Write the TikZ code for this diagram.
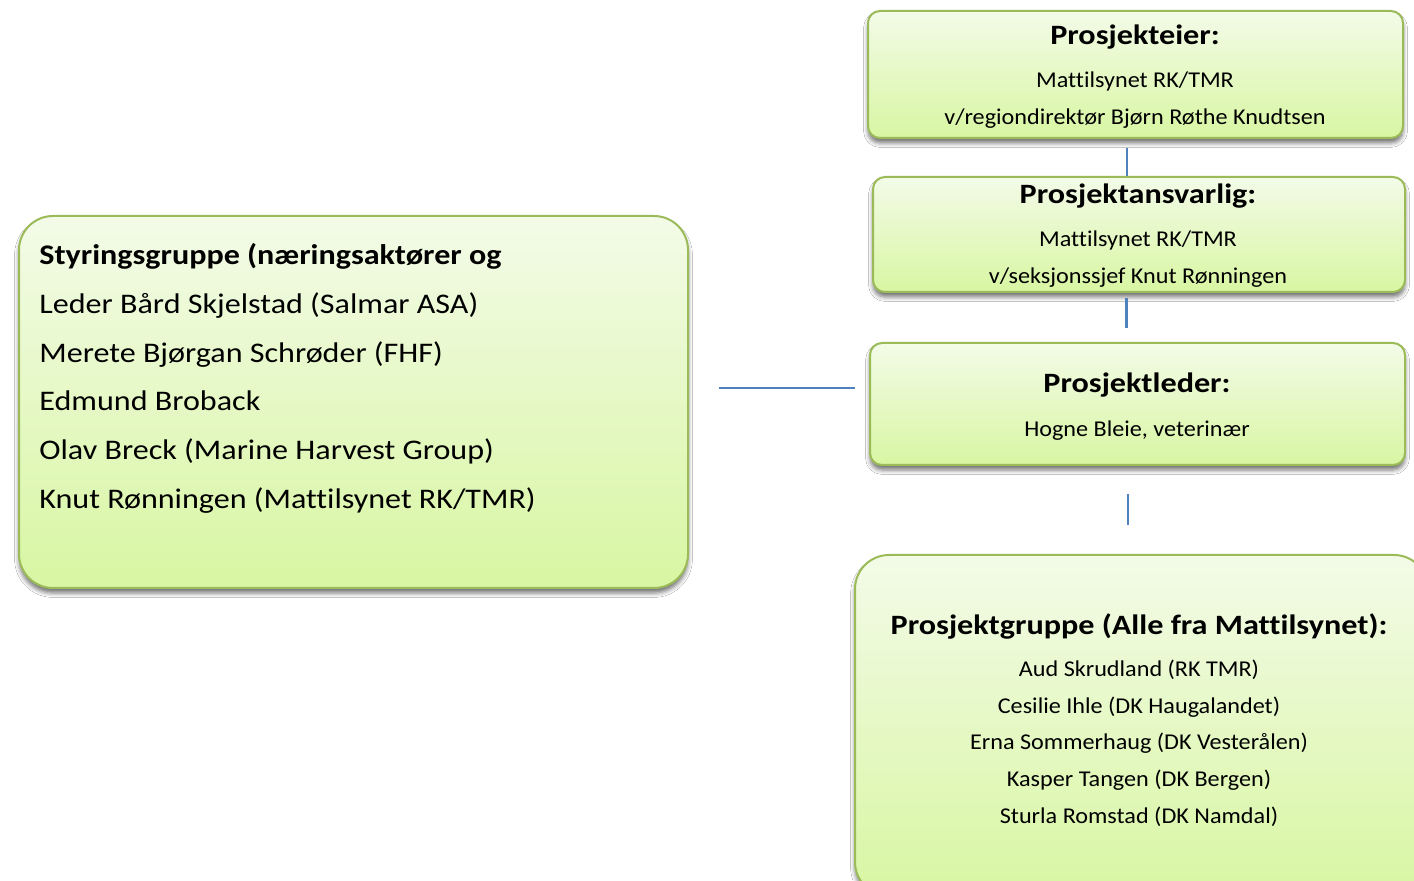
\documentclass[tikz,border=0pt]{standalone}
\usepackage{fontspec}
\setmainfont{Carlito}[Ligatures=NoCommon]
\newfontfamily\smallfont{Carlito}[Ligatures=NoCommon, FakeStretch=1.07]
\newfontfamily\bigfont{Carlito}[Ligatures=NoCommon, FakeStretch=1.13]
\newfontfamily\headfont{Carlito}[Ligatures=NoCommon, FakeStretch=1.15]
\usetikzlibrary{fit,shadows.blur}
\definecolor{boxborder}{HTML}{9BBB59}
\definecolor{boxtop}{HTML}{F3FBE8}
\definecolor{boxbot}{HTML}{D8F6A2}
\definecolor{linkblue}{HTML}{4F81BD}
\tikzset{
  box/.style={draw=boxborder, line width=1pt, top color=boxtop, bottom color=boxbot,
    inner sep=0pt, rounded corners=6pt,
    blur shadow={shadow xshift=0pt, shadow yshift=-2.5pt, shadow blur radius=2.2pt, shadow opacity=55}},
  bigbox/.style={box, rounded corners=17pt},
  ttl/.style={font=\headfont\bfseries\fontsize{14}{16}\selectfont, anchor=base, inner sep=0pt},
  txt/.style={font=\smallfont\fontsize{11.3}{13}\selectfont, anchor=base, inner sep=0pt},
  ltxt/.style={font=\bigfont\fontsize{14.2}{16}\selectfont, anchor=base west, inner sep=0pt},
  lttl/.style={font=\bigfont\bfseries\fontsize{14.2}{16}\selectfont, anchor=base west, inner sep=0pt},
  link/.style={draw=linkblue, line width=0.75pt},
  linkthick/.style={draw=linkblue, line width=1.5pt}
}
\begin{document}
\begin{tikzpicture}[x=0.5pt,y=-0.5pt]
\useasboundingbox (0,0) rectangle (1414,881);
\clip (0,0) rectangle (1414,881);
\fill[white] (0,0) rectangle (1414,881);

% boxes
\node[box, fit={(868,11) (1403,138)}] (eier) {};
\node[box, fit={(873,177) (1405,292)}] (ansv) {};
\node[box, fit={(870,343) (1405,465)}] (leder) {};
\node[bigbox, fit={(855,555) (1428,896)}] (gruppe) {};
\node[bigbox, fit={(19,216) (688,588)}] (styr) {};

% texts
\node[ttl] (t1a) at (1135,45) {Prosjekteier:};
\node[txt] (t1b) at (1135,88) {Mattilsynet RK/TMR};
\node[txt] (t1c) at (1135,125) {v/regiondirektør Bjørn Røthe Knudtsen};

\node[ttl] (t2a) at (1138,204) {Prosjektansvarlig:};
\node[txt] (t2b) at (1138,247) {Mattilsynet RK/TMR};
\node[txt] (t2c) at (1138,284) {v/seksjonssjef Knut Rønningen};

\node[ttl] (t3a) at (1137,393) {Prosjektleder:};
\node[txt] (t3b) at (1137,437) {Hogne Bleie, veterinær};

\node[ttl] (t4a) at (1139,635) {Prosjektgruppe (Alle fra Mattilsynet):};
\node[txt] (t4b) at (1139,677) {Aud Skrudland (RK TMR)};
\node[txt] (t4c) at (1139,713) {Cesilie Ihle (DK Haugalandet)};
\node[txt] (t4d) at (1139,749) {Erna Sommerhaug (DK Vesterålen)};
\node[txt] (t4e) at (1139,786) {Kasper Tangen (DK Bergen)};
\node[txt] (t4f) at (1139,823) {Sturla Romstad (DK Namdal)};

\node[lttl] (t5a) at (39,265) {Styringsgruppe (næringsaktører og};
\node[ltxt] (t5b) at (39,313.5) {Leder Bård Skjelstad (Salmar ASA)};
\node[ltxt] (t5c) at (39,362.5) {Merete Bjørgan Schrøder (FHF)};
\node[ltxt] (t5d) at (39,410.5) {Edmund Broback};
\node[ltxt] (t5e) at (39,459.5) {Olav Breck (Marine Harvest Group)};
\node[ltxt] (t5f) at (39,508.5) {Knut Rønningen (Mattilsynet RK/TMR)};

% connector end points
\coordinate (c1a) at (1127,148);
\coordinate (c1b) at (1127,176);
\coordinate (c2a) at (1126,298);
\coordinate (c2b) at (1126,328);
\coordinate (c3a) at (719,388);
\coordinate (c3b) at (855,388);
\coordinate (c4a) at (1128,494);
\coordinate (c4b) at (1128,525);

\draw[link] (c1a) -- (c1b);
\draw[linkthick] (c2a) -- (c2b);
\draw[link] (c3a) -- (c3b);
\draw[link, line width=1pt] (c4a) -- (c4b);
\end{tikzpicture}
\end{document}
